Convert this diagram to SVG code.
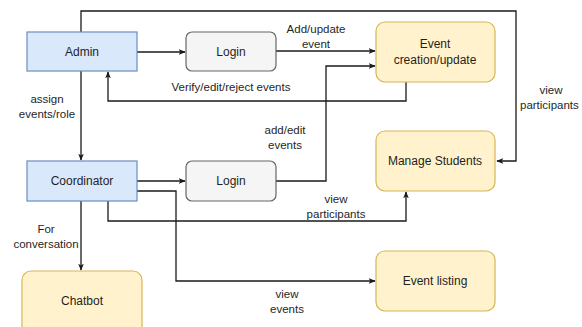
<svg xmlns="http://www.w3.org/2000/svg" width="582" height="327" viewBox="0 0 582 327">
  <style>
    text { font-family: "Liberation Sans", Arial, sans-serif; font-size: 12px; fill: #1f1f1f; text-anchor: middle; }
    .lbl { font-size: 11.5px; }
    .actor { fill: #dae8fc; stroke: #6c8ebf; stroke-width: 1.2; }
    .proc { fill: #fff2cc; stroke: #d6b656; stroke-width: 1.2; }
    .gate { fill: #f5f5f5; stroke: #666666; stroke-width: 1.2; }
    .edge { fill: none; stroke: #1a1a1a; stroke-width: 1.3; }
  </style>
  <defs>
    <marker id="arr" viewBox="0 0 10 10" refX="9" refY="5" markerWidth="7" markerHeight="7" orient="auto" markerUnits="userSpaceOnUse">
      <path d="M0,1 L10,5 L0,9 L2.5,5 Z" fill="#1a1a1a"/>
    </marker>
  </defs>
  <rect width="582" height="327" fill="#ffffff"/>

  <g id="connectors">
    <!-- Admin -> Manage Students (top loop) -->
    <path class="edge" d="M81,32 V11 H516 V161 H497" marker-end="url(#arr)"/>
    <!-- Admin -> Login -->
    <path class="edge" d="M137,52 H185" marker-end="url(#arr)"/>
    <!-- Login -> Event creation -->
    <path class="edge" d="M276,51 H375" marker-end="url(#arr)"/>
    <!-- Event creation -> Admin (verify) -->
    <path class="edge" d="M406,82 V101 H108 V72" marker-end="url(#arr)"/>
    <!-- Admin -> Coordinator -->
    <path class="edge" d="M81,71 V160" marker-end="url(#arr)"/>
    <!-- Coordinator -> Login -->
    <path class="edge" d="M137,181 H185" marker-end="url(#arr)"/>
    <!-- Login (coordinator) -> Event creation -->
    <path class="edge" d="M276,181 H326 V66 H375" marker-end="url(#arr)"/>
    <!-- Coordinator -> Manage Students -->
    <path class="edge" d="M108,201 V221 H406 V192" marker-end="url(#arr)"/>
    <!-- Coordinator -> Event listing -->
    <path class="edge" d="M137,191 H176 V281 H375" marker-end="url(#arr)"/>
    <!-- Coordinator -> Chatbot -->
    <path class="edge" d="M81,201 V270" marker-end="url(#arr)"/>
  </g>

  <g id="admin">
    <rect class="actor" x="27" y="32" width="110" height="39"/>
    <text x="82" y="56">Admin</text>
  </g>
  <g id="login-admin">
    <rect class="gate" x="186" y="32" width="90" height="39" rx="6"/>
    <text x="231" y="56">Login</text>
  </g>
  <g id="event-creation">
    <rect class="proc" x="376" y="22" width="119" height="60" rx="9"/>
    <text x="435" y="48">Event</text>
    <text x="435" y="64">creation/update</text>
  </g>
  <g id="coordinator">
    <rect class="actor" x="27" y="161" width="110" height="40"/>
    <text x="82" y="185">Coordinator</text>
  </g>
  <g id="login-coordinator">
    <rect class="gate" x="186" y="161" width="90" height="40" rx="6"/>
    <text x="231" y="185">Login</text>
  </g>
  <g id="manage-students">
    <rect class="proc" x="376" y="131" width="119" height="60" rx="9"/>
    <text x="435" y="165">Manage Students</text>
  </g>
  <g id="event-listing">
    <rect class="proc" x="376" y="251" width="119" height="60" rx="9"/>
    <text x="435" y="285">Event listing</text>
  </g>
  <g id="chatbot">
    <rect class="proc" x="22" y="271" width="120" height="66" rx="9"/>
    <text x="82" y="305">Chatbot</text>
  </g>

  <g id="labels">
    <text class="lbl" x="316" y="33">Add/update</text>
    <text class="lbl" x="316" y="48">event</text>
    <text class="lbl" x="231" y="91">Verify/edit/reject events</text>
    <text class="lbl" x="47" y="103">assign</text>
    <text class="lbl" x="47" y="118">events/role</text>
    <text class="lbl" x="285" y="134">add/edit</text>
    <text class="lbl" x="285" y="149">events</text>
    <text class="lbl" x="551" y="94">view</text>
    <text class="lbl" x="520" y="109" style="text-anchor:start">participants</text>
    <text class="lbl" x="336" y="203">view</text>
    <text class="lbl" x="336" y="218">participants</text>
    <text class="lbl" x="46" y="233">For</text>
    <text class="lbl" x="46" y="248">conversation</text>
    <text class="lbl" x="287" y="298">view</text>
    <text class="lbl" x="287" y="313">events</text>
  </g>
</svg>
